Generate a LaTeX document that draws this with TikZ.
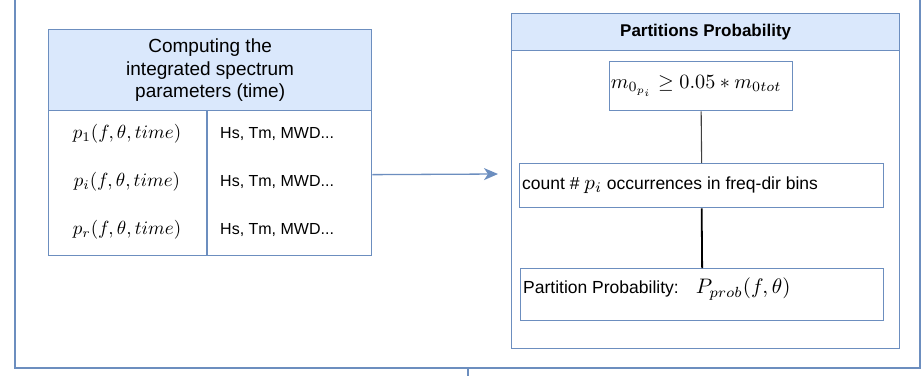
\documentclass[tikz,border=0pt]{standalone}
\usepackage{graphicx}
\usepackage[no-math]{fontspec}
\newfontfamily\arialf{Liberation Sans}
\usetikzlibrary{arrows.meta}
\definecolor{dioblue}{HTML}{6C8EBF}
\definecolor{diofill}{HTML}{DAE8FC}
\newcommand{\scmath}[2]{\scalebox{#1}{\fontsize{10}{12}\selectfont$#2$}}
\begin{document}
\begin{tikzpicture}[x=1pt,y=-1pt,
  frame/.style={draw=dioblue,line width=1.3pt},
  hdrbox/.style={frame,fill=diofill,inner sep=0pt,anchor=north west},
  plainbox/.style={frame,fill=white,inner sep=0pt,anchor=north west},
  celltext/.style={font=\arialf\fontsize{16}{19}\selectfont,inner sep=0pt},
  mathcell/.style={inner sep=0pt},
  boxtext/.style={font=\arialf\fontsize{17.5}{21}\selectfont,inner sep=0pt,anchor=west},
]
\useasboundingbox (0,0) rectangle (923,375);
\fill[white] (0,0) rectangle (923,375);
% outer frame
\draw[frame] (15,-10) rectangle (920,368);
\coordinate (tickA) at (468,368);
\coordinate (tickB) at (468,380);
\draw[frame] (tickA) -- (tickB);

% left table
\node[hdrbox,minimum width=323pt,minimum height=81pt] (lhdr) at (48,29) {};
\node[font=\arialf\fontsize{19}{22.5}\selectfont,align=center,inner sep=0pt] (lhdrtext) at (lhdr.center)
  {Computing the\\integrated spectrum\\parameters (time)};
\node[plainbox,minimum width=323pt,minimum height=145pt] (tbody) at (48,110) {};
\coordinate (divtop) at (207,110);
\coordinate (divbot) at (207,255);
\draw[frame] (divtop) -- (divbot);

\node[mathcell] (p1) at (127,134) {\scmath{1.9}{p_1(f,\theta,time)}};
\node[mathcell] (pi) at (127,182) {\scmath{1.9}{p_i(f,\theta,time)}};
\node[mathcell] (pr) at (127,230) {\scmath{1.9}{p_r(f,\theta,time)}};
\node[celltext,anchor=west] (h1) at (220,134) {Hs, Tm, MWD...};
\node[celltext,anchor=west] (h2) at (220,182) {Hs, Tm, MWD...};
\node[celltext,anchor=west] (h3) at (220,230) {Hs, Tm, MWD...};

% arrow
\coordinate (arrend) at (498,174);
\draw[frame,line width=1.3pt,-{Stealth[length=14pt,width=12pt,inset=4pt]}] ([yshift=8.5pt]tbody.east) -- (arrend);

% right group
\node[hdrbox,minimum width=388pt,minimum height=37pt] (rhdr) at (511,13) {};
\node[font=\arialf\bfseries\fontsize{17}{20}\selectfont,inner sep=0pt] (rhdrtext) at (rhdr.center) {Partitions Probability};
\node[plainbox,minimum width=388pt,minimum height=298pt] (rbody) at (511,50) {};

\node[plainbox,minimum width=183pt,minimum height=49pt] (b1) at (609,61) {};
\node[inner sep=0pt] (b1t) at ([xshift=-5pt]b1.center) {\scmath{2.02}{m_{0_{p_i}}\geq 0.05*m_{0tot}}};

\node[plainbox,minimum width=364pt,minimum height=44pt] (b2) at (519,163) {};
\node[boxtext] (b2t) at (522,185) {count \# \scmath{2.1}{p_i} occurrences in freq-dir bins};

\node[plainbox,minimum width=363pt,minimum height=52pt] (b3) at (520,268) {};
\node[boxtext] (b3t) at (523,289) {Partition Probability:\hspace{17pt}\scmath{2.1}{P_{prob}(f,\theta)}};

\draw[draw=black!75,line width=1.1pt] (b1.south) -- (b2.north);
\draw[draw=black,line width=1.8pt] (b2.south) -- (b3.north);
\end{tikzpicture}
\end{document}
